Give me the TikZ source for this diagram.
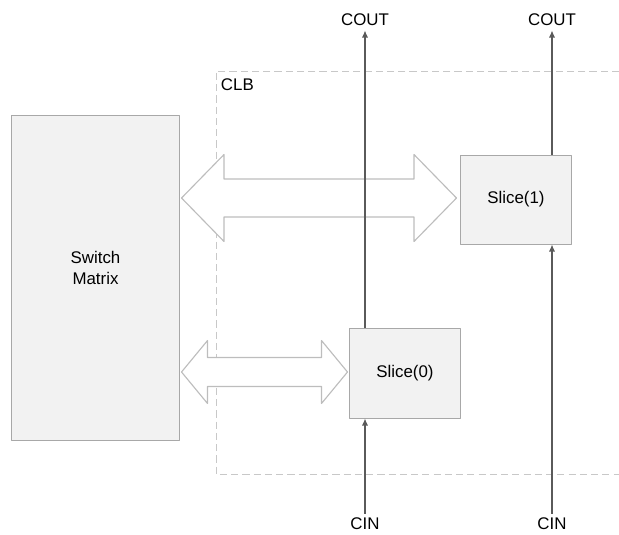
\documentclass[tikz,border=0pt]{standalone}
\usepackage{fontspec}
\setmainfont{Liberation Sans}
\usetikzlibrary{positioning,calc,arrows.meta}
\definecolor{boxfill}{HTML}{F2F2F2}
\definecolor{boxline}{HTML}{A8A8A8}
\definecolor{busline}{HTML}{BDBDBD}
\definecolor{clbline}{HTML}{C8C8C8}
\definecolor{sigline}{HTML}{5A5A5A}
% bus arrow: #1 left tip, #2 right tip, #3 head length, #4 half shaft, #5 half head
\newcommand{\busarrow}[5]{%
  \draw[bus] (#1) -- ($(#1)+(#3,-#5)$) -- ($(#1)+(#3,-#4)$) -- ($(#2)+(-#3,-#4)$)
    -- ($(#2)+(-#3,-#5)$) -- (#2) -- ($(#2)+(-#3,#5)$) -- ($(#2)+(-#3,#4)$)
    -- ($(#1)+(#3,#4)$) -- ($(#1)+(#3,#5)$) -- cycle;}
\begin{document}
\begin{tikzpicture}[x=0.025cm,y=-0.025cm,font=\fontsize{12}{15.5}\selectfont,line join=round]
\tikzset{
  blk/.style={draw=boxline,fill=boxfill,line width=0.7pt,inner sep=0pt,align=center},
  bus/.style={draw=busline,line width=0.8pt,fill=white},
  clb/.style={draw=clbline,line width=0.6pt,dash pattern=on 5pt off 3pt},
  sig/.style={draw=sigline,line width=0.9pt,-{Latex[length=5pt,width=4.5pt]}},
  pin/.style={inner sep=3pt}
}
\useasboundingbox (0,0) rectangle (619,534);
%% CLB region
\draw[clb] (619,71) -- (216,71) -- (216,474) -- (619,474);
\node[anchor=north west] (clbname) at (216,74) {CLB};
%% blocks
\node[blk,minimum width=4.175cm,minimum height=8.1cm,
  label={[align=center,yshift=0.25cm]center:Switch\\Matrix}] (sw) at (95.5,278) {};
\node[blk,minimum width=2.75cm,minimum height=2.225cm] (s1) at (516,199.5) {Slice(1)};
\node[blk,minimum width=2.75cm,minimum height=2.25cm] (s0) at (405,373) {Slice(0)};
%% carry pins
\node[pin] (co0) at (365,20) {COUT};
\node[pin] (co1) at (552,20) {COUT};
\node[pin] (ci0) at (365,524) {CIN};
\node[pin] (ci1) at (552,524) {CIN};
%% buses
\coordinate (b1l) at ($(sw.east |- 0,198)+(2,0)$);
\coordinate (b1r) at ($(s1.west |- 0,198)+(-4,0)$);
\coordinate (b0l) at ($(sw.east |- 0,372)+(2,0)$);
\coordinate (b0r) at ($(s0.west |- 0,372)+(-2,0)$);
\busarrow{b1l}{b1r}{42.5}{19}{43.5}
\busarrow{b0l}{b0r}{26}{14.5}{31.5}
%% carry chain
\draw[sig] (s0.north -| co0) -- (co0.south);
\draw[sig] (s1.north -| co1) -- (co1.south);
\draw[sig] (ci0.north) -- (ci0 |- s0.south);
\draw[sig] (ci1.north) -- (ci1 |- s1.south);
\end{tikzpicture}
\end{document}
